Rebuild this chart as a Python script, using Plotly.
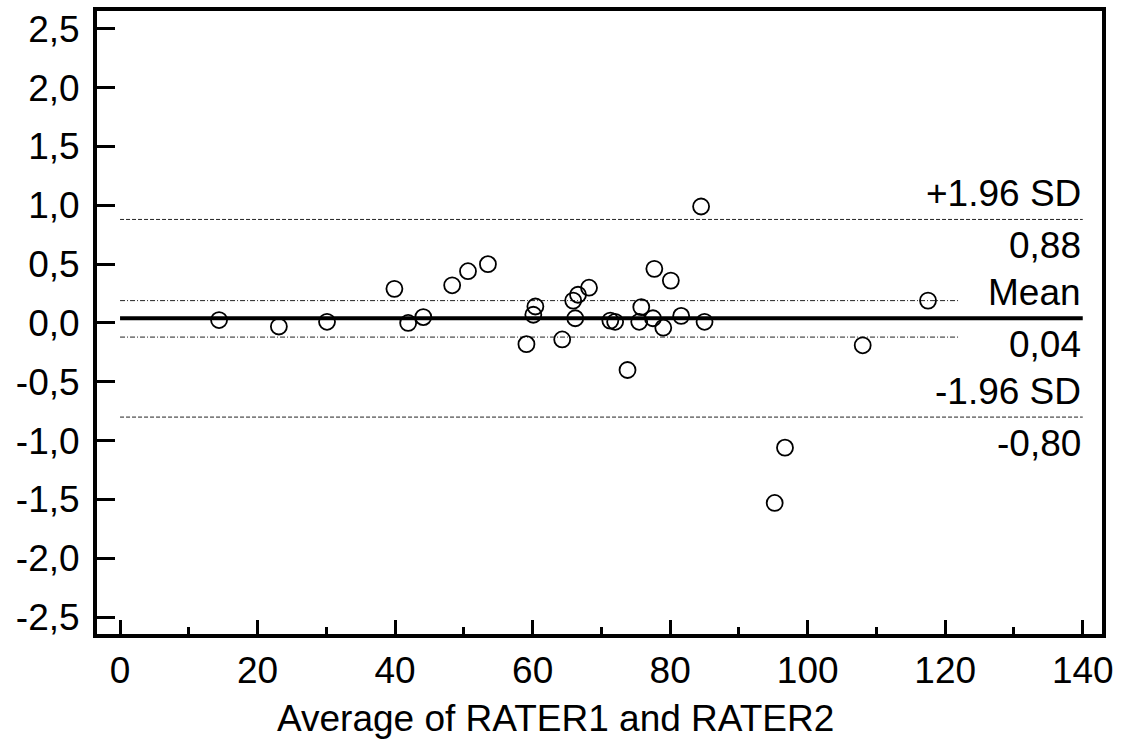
import plotly.graph_objects as go

# ---- data ----
avg_x = [14.4, 23.1, 30.1, 39.9, 41.9, 44.1, 48.3, 50.6, 53.5, 59.1, 60.1, 60.4,
         64.3, 65.9, 66.2, 66.6, 68.2, 71.3, 72.0, 73.8, 75.5, 75.8, 77.5, 77.7,
         79.0, 80.1, 81.6, 84.5, 85.0, 95.2, 96.7, 108.0, 117.5]
diff_y = [0.025, -0.03, 0.01, 0.29, 0.0, 0.05, 0.32, 0.44, 0.50, -0.18, 0.07, 0.14,
          -0.14, 0.19, 0.04, 0.24, 0.30, 0.02, 0.01, -0.40, 0.01, 0.135, 0.04, 0.46,
          -0.04, 0.36, 0.06, 0.99, 0.01, -1.53, -1.06, -0.19, 0.19]

mean_diff = 0.04
upper_loa = 0.88
lower_loa = -0.80
mean_ci = [0.19, -0.12]
loa_span = [0, 140]
ci_span = [0, 122]

y_tick_vals = [-2.5, -2.0, -1.5, -1.0, -0.5, 0.0, 0.5, 1.0, 1.5, 2.0, 2.5]
y_tick_text = ["-2,5", "-2,0", "-1,5", "-1,0", "-0,5", "0,0", "0,5", "1,0", "1,5", "2,0", "2,5"]
x_tick_vals = [0, 20, 40, 60, 80, 100, 120, 140]
x_tick_text = ["0", "20", "40", "60", "80", "100", "120", "140"]
x_title = "Average of RATER1 and RATER2"

label_upper = ["+1.96 SD", "0,88"]
label_mean = ["Mean", "0,04"]
label_lower = ["-1.96 SD", "-0,80"]

FONT = "Liberation Sans, Arial, sans-serif"
FS = 37

fig = go.Figure()

# limits of agreement
for v in [upper_loa, lower_loa]:
    fig.add_trace(go.Scatter(x=loa_span, y=[v, v], mode="lines",
                             line=dict(color="#222", width=1, dash="4px,2px"),
                             hoverinfo="skip", showlegend=False))
# CI of the mean
for v in mean_ci:
    fig.add_trace(go.Scatter(x=ci_span, y=[v, v], mode="lines",
                             line=dict(color="#222", width=1, dash="5px,2px,1px,2px"),
                             hoverinfo="skip", showlegend=False))
# mean line
fig.add_trace(go.Scatter(x=loa_span, y=[mean_diff, mean_diff], mode="lines",
                         line=dict(color="black", width=4),
                         hoverinfo="skip", showlegend=False))
# points
fig.add_trace(go.Scatter(x=avg_x, y=diff_y, mode="markers",
                         marker=dict(symbol="circle-open", size=16, color="black",
                                     line=dict(width=1.8, color="black")),
                         showlegend=False))

# labels
for (above, below), v in [(label_upper, upper_loa), (label_mean, mean_diff), (label_lower, lower_loa)]:
    fig.add_annotation(x=loa_span[1], y=v, text=above, xanchor="right", yanchor="bottom",
                       showarrow=False, yshift=3, font=dict(family=FONT, size=FS, color="black"))
    fig.add_annotation(x=loa_span[1], y=v, text=below, xanchor="right", yanchor="top",
                       showarrow=False, yshift=-4, font=dict(family=FONT, size=FS, color="black"))

# x axis title (slightly left of centre, as in the reference)
fig.add_annotation(xref="paper", yref="paper", x=0.456, y=0, yshift=-84,
                   xanchor="center", yanchor="middle", text=x_title, showarrow=False,
                   font=dict(family=FONT, size=FS, color="black"))

fig.update_layout(
    width=1128, height=745,
    margin=dict(l=97, r=26, t=7, b=111),
    paper_bgcolor="white", plot_bgcolor="white",
    font=dict(family=FONT, size=FS, color="black"),
    showlegend=False,
)
fig.update_xaxes(
    range=[-3.35, 142.8], showgrid=False, zeroline=False,
    showline=True, linewidth=4, linecolor="black", mirror=True,
    ticks="inside", ticklen=14, tickwidth=3, tickcolor="black",
    tickvals=x_tick_vals, ticktext=x_tick_text,
    minor=dict(ticks="inside", ticklen=7, tickwidth=3, tickcolor="black", dtick=10, tick0=0, showgrid=False),
    ticklabelstandoff=1,
    tickfont=dict(family=FONT, size=FS, color="black"),
)
fig.update_yaxes(
    range=[-2.644, 2.652], showgrid=False, zeroline=False,
    showline=True, linewidth=4, linecolor="black", mirror=True,
    ticks="inside", ticklen=18, tickwidth=3, tickcolor="black",
    tickvals=y_tick_vals, ticktext=y_tick_text,
    ticklabelstandoff=6,
    tickfont=dict(family=FONT, size=FS, color="black"),
)

fig.write_html("out.html")
